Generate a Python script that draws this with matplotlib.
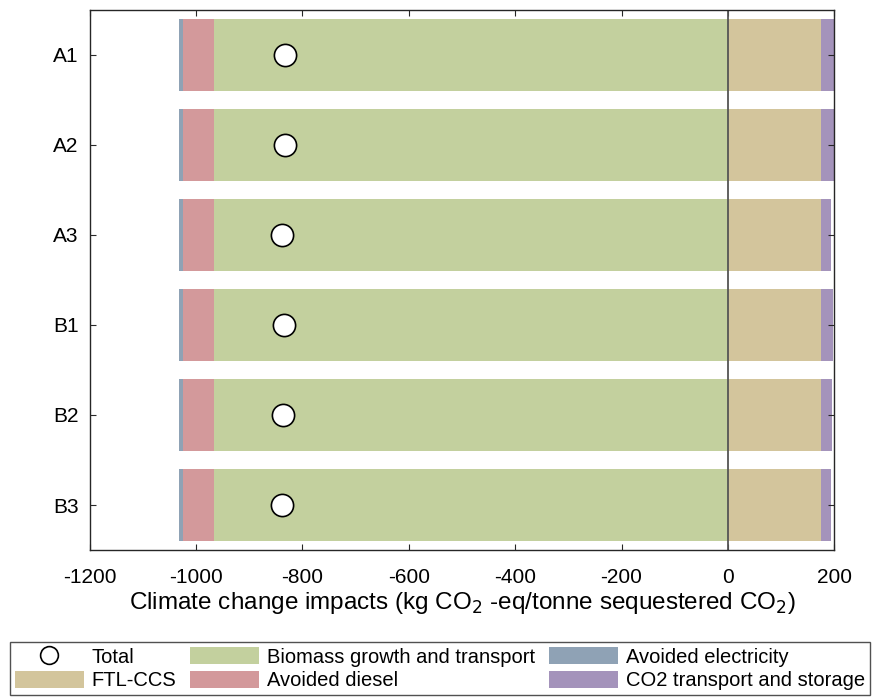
import matplotlib.pyplot as plt
import numpy as np

plt.rcParams['font.family'] = ['Liberation Sans', 'DejaVu Sans']
plt.rcParams['axes.unicode_minus'] = False

scenarios = ['A1', 'A2', 'A3', 'B1', 'B2', 'B3']

# contributions per scenario, kg CO2-eq / tonne sequestered CO2
avoided_elec = [-8, -8, -8, -8, -8, -8]
avoided_diesel = [-58, -58, -59, -58, -59, -59]
biomass = [-966, -966, -966, -966, -966, -966]
ftl_ccs = [175, 175, 175, 175, 175, 175]
co2_transport = [24, 24, 19, 23, 21, 19]

colors = {
    'elec': '#8fa2b5',
    'diesel': '#d3999b',
    'biomass': '#c3d09e',
    'ftl': '#d3c59c',
    'co2': '#a493bb',
}

y = np.arange(len(scenarios))
h = 0.8

fig = plt.figure(figsize=(8.8, 6.98), dpi=100)
ax = fig.add_axes([0.102, 0.212, 0.846, 0.774])

# negative side stacked leftwards from zero
b_bio = ax.barh(y, biomass, height=h, color=colors['biomass'], label='Biomass growth and transport')
b_die = ax.barh(y, avoided_diesel, left=biomass, height=h, color=colors['diesel'], label='Avoided diesel')
left_elec = np.array(biomass) + np.array(avoided_diesel)
b_ele = ax.barh(y, avoided_elec, left=left_elec, height=h, color=colors['elec'], label='Avoided electricity')
# positive side
b_ftl = ax.barh(y, ftl_ccs, height=h, color=colors['ftl'], label='FTL-CCS')
b_co2 = ax.barh(y, co2_transport, left=ftl_ccs, height=h, color=colors['co2'], label='CO2 transport and storage')

total = (np.array(avoided_elec) + np.array(avoided_diesel) + np.array(biomass)
         + np.array(ftl_ccs) + np.array(co2_transport))
tot, = ax.plot(total, y, 'o', ms=16, mfc='white', mec='black', mew=1.2, ls='none', label='Total')

ax.axvline(0, color='#555555', lw=1.3)

ax.set_xlim(-1200, 200)
ax.set_ylim(len(scenarios) - 0.5, -0.5)
ax.set_xticks(np.arange(-1200, 201, 200))
ax.set_yticks(y)
ax.set_yticklabels(scenarios)
ax.tick_params(direction='in', top=True, right=True, labelsize=15, length=4.5, color='#262626')
ax.tick_params(axis='y', pad=8)
ax.tick_params(axis='x', pad=13)
for s in ax.spines.values():
    s.set_color('#262626')
    s.set_linewidth(1.0)

ax.set_xlabel('Climate change impacts (kg CO$_2$ -eq/tonne sequestered CO$_2$)', fontsize=17.5, labelpad=2)

handles = [tot, b_ftl, b_bio, b_die, b_ele, b_co2]
labels = [hd.get_label() for hd in handles]
fig.legend(handles, labels, ncol=3, loc='upper center', bbox_to_anchor=(0.5, 0.094),
           fontsize=14.5, frameon=True, fancybox=False, edgecolor='#262626',
           handlelength=3.4, handleheight=0.9, columnspacing=0.7, handletextpad=0.4,
           labelspacing=0.2, borderpad=0.25, markerscale=0.8)

fig.savefig('out.png', dpi=100)
